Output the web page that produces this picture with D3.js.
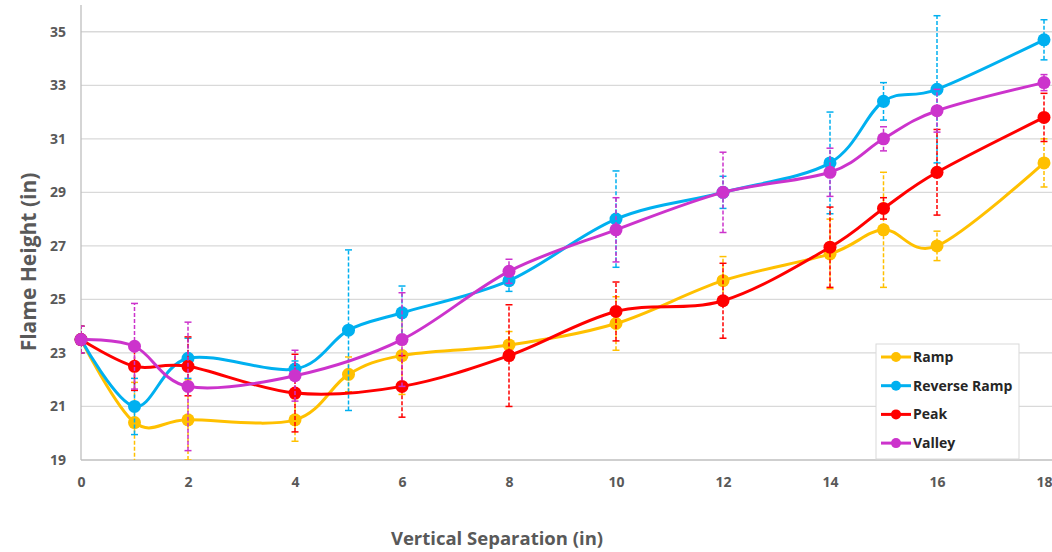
<!DOCTYPE html>
<html lang="en">
<head>
<meta charset="utf-8">
<title>Flame Height vs Vertical Separation</title>
<script src="https://d3js.org/d3.v7.min.js"></script>
<style>
  body { margin: 0; background: #fff; }
  text { font-family: "Open Sans", "Liberation Sans", sans-serif; }
</style>
</head>
<body>
<div id="chart"></div>
<script>
// data
var xVals = [0, 1, 2, 4, 5, 6, 8, 10, 12, 14, 15, 16, 18];
var seriesNames = ["Ramp", "Reverse Ramp", "Peak", "Valley"];
var seriesColors = ["#FFC000", "#00B0F0", "#FF0000", "#CC33CC"];

var ramp       = [23.5, 20.4, 20.5, 20.5, 22.2, 22.9, 23.3, 24.1, 25.7, 26.7, 27.6, 27.0, 30.1];
var rampErr    = [0.5, 1.5, 1.5, 0.8, 0.65, 1.45, 0.5, 1.0, 0.9, 1.3, 2.15, 0.55, 0.9];
var reverse    = [23.5, 21.0, 22.8, 22.4, 23.85, 24.5, 25.7, 28.0, 29.0, 30.1, 32.4, 32.85, 34.7];
var reverseErr = [0.5, 1.05, 0.75, 0.3, 3.0, 1.0, 0.4, 1.8, 0.6, 1.9, 0.7, 2.75, 0.75];
var peak       = [23.5, 22.5, 22.5, 21.5, null, 21.75, 22.9, 24.55, 24.95, 26.95, 28.4, 29.75, 31.8];
var peakErr    = [0.5, 0.9, 1.1, 1.45, null, 1.15, 1.9, 1.1, 1.4, 1.5, 0.4, 1.6, 0.9];
var valley     = [23.5, 23.25, 21.75, 22.15, null, 23.5, 26.05, 27.6, 29.0, 29.75, 31.0, 32.05, 33.1];
var valleyErr  = [0.5, 1.6, 2.4, 0.95, null, 1.75, 0.45, 1.2, 1.5, 0.9, 0.45, 0.8, 0.3];

var yTicks = [19, 21, 23, 25, 27, 29, 31, 33, 35];
var xTicks = [0, 2, 4, 6, 8, 10, 12, 14, 16, 18];

var allValues = [ramp, reverse, peak, valley];
var allErrors = [rampErr, reverseErr, peakErr, valleyErr];

// dimensions
var W = 1052, H = 552;
var margin = {top: 5, left: 81};
var plotBottom = 460, plotRight = 1044;

var svg = d3.select("#chart").append("svg")
    .attr("width", W)
    .attr("height", H);

var x = d3.scaleLinear().domain([0, 18]).range([margin.left, plotRight]);
var y = d3.scaleLinear().domain([19, 36]).range([plotBottom, margin.top]);

// gridlines
svg.append("g")
  .selectAll("line")
  .data(yTicks.filter(function(d) { return d > 19; }))
  .enter().append("line")
    .attr("x1", margin.left).attr("x2", W)
    .attr("y1", function(d) { return y(d); })
    .attr("y2", function(d) { return y(d); })
    .attr("stroke", "#D9D9D9")
    .attr("stroke-width", 1.3);

// axes lines
svg.append("line")
    .attr("x1", margin.left).attr("x2", W)
    .attr("y1", plotBottom).attr("y2", plotBottom)
    .attr("stroke", "#BFBFBF").attr("stroke-width", 1.3);
svg.append("line")
    .attr("x1", margin.left).attr("x2", margin.left)
    .attr("y1", margin.top).attr("y2", plotBottom)
    .attr("stroke", "#BFBFBF").attr("stroke-width", 1.3);

// tick labels via d3 axes
var yAxis = svg.append("g")
    .attr("transform", "translate(" + (margin.left - 15) + ",0)")
    .call(d3.axisLeft(y).tickValues(yTicks).tickSize(0).tickPadding(0));
var xAxis = svg.append("g")
    .attr("transform", "translate(0," + (plotBottom + 17) + ")")
    .call(d3.axisBottom(x).tickValues(xTicks).tickSize(0).tickPadding(0));
[yAxis, xAxis].forEach(function(a) {
  a.select(".domain").remove();
  a.selectAll("text")
    .attr("fill", "#595959")
    .style("font-size", "14px")
    .style("font-weight", "bold")
    .style("font-family", "'Open Sans', sans-serif");
});

// axis titles
svg.append("text")
    .attr("x", 497).attr("y", 545)
    .attr("text-anchor", "middle")
    .attr("fill", "#595959")
    .style("font-size", "18.5px").style("font-weight", "bold")
    .text("Vertical Separation (in)");
svg.append("text")
    .attr("transform", "translate(36,262) rotate(-90)")
    .attr("text-anchor", "middle")
    .attr("fill", "#595959")
    .style("font-size", "21px").style("font-weight", "bold")
    .text("Flame Height (in)");

// clip for error bars
svg.append("clipPath").attr("id", "plotClip")
  .append("rect")
    .attr("x", margin.left).attr("y", 0)
    .attr("width", W - margin.left).attr("height", plotBottom);

var line = d3.line()
    .x(function(d) { return x(d.x); })
    .y(function(d) { return y(d.v); })
    .curve(d3.curveCardinal.tension(0));

allValues.forEach(function(vals, i) {
  var color = seriesColors[i];
  var pts = xVals.map(function(xv, j) {
    return {x: xv, v: vals[j], e: allErrors[i][j]};
  }).filter(function(d) { return d.v != null; });

  var g = svg.append("g");

  // error bars
  var eb = g.append("g").attr("clip-path", "url(#plotClip)")
    .selectAll("g").data(pts).enter().append("g");
  eb.append("line")
      .attr("x1", function(d) { return x(d.x); })
      .attr("x2", function(d) { return x(d.x); })
      .attr("y1", function(d) { return y(d.v - d.e); })
      .attr("y2", function(d) { return y(d.v + d.e); })
      .attr("stroke", color).attr("stroke-width", 1.5)
      .attr("stroke-dasharray", "4,2");
  [-1, 1].forEach(function(s) {
    eb.filter(function(d) { return d.v + s * d.e >= 19; })
      .append("line")
        .attr("x1", function(d) { return x(d.x) - 3.5; })
        .attr("x2", function(d) { return x(d.x) + 3.5; })
        .attr("y1", function(d) { return y(d.v + s * d.e); })
        .attr("y2", function(d) { return y(d.v + s * d.e); })
        .attr("stroke", color).attr("stroke-width", 1.5);
  });

  // smoothed line
  g.append("path")
      .datum(pts)
      .attr("d", line)
      .attr("fill", "none")
      .attr("stroke", color)
      .attr("stroke-width", 3);

  // markers
  g.selectAll("circle").data(pts).enter().append("circle")
      .attr("cx", function(d) { return x(d.x); })
      .attr("cy", function(d) { return y(d.v); })
      .attr("r", 6.5)
      .attr("fill", color);
});

// legend
var legend = svg.append("g").attr("transform", "translate(876,344)");
legend.append("rect")
    .attr("width", 143).attr("height", 115)
    .attr("fill", "#fff")
    .attr("stroke", "#D9D9D9").attr("stroke-width", 1);
seriesNames.forEach(function(name, i) {
  var ly = 13 + i * 28.7;
  legend.append("line")
      .attr("x1", 5).attr("x2", 35)
      .attr("y1", ly).attr("y2", ly)
      .attr("stroke", seriesColors[i]).attr("stroke-width", 3);
  legend.append("circle")
      .attr("cx", 20).attr("cy", ly).attr("r", 5)
      .attr("fill", seriesColors[i]);
  legend.append("text")
      .attr("x", 37).attr("y", ly + 5)
      .attr("fill", "#262626")
      .style("font-size", "14px").style("font-weight", "bold")
      .text(name);
});
</script>
</body>
</html>
